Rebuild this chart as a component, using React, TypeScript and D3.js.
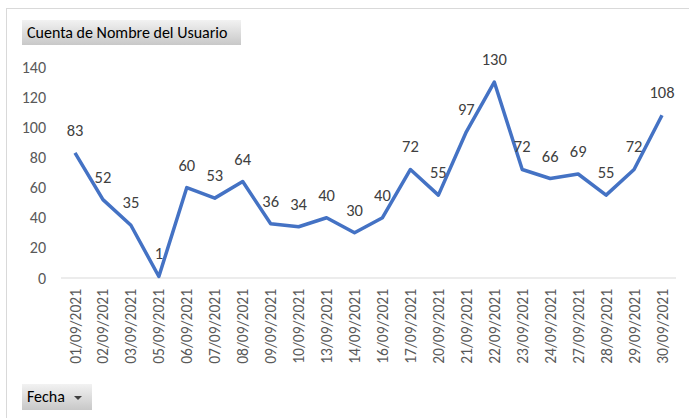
import React, { useEffect, useRef } from 'react';
import * as d3 from 'd3';

const fechas = [
  '01/09/2021', '02/09/2021', '03/09/2021', '05/09/2021', '06/09/2021', '07/09/2021',
  '08/09/2021', '09/09/2021', '10/09/2021', '13/09/2021', '14/09/2021', '16/09/2021',
  '17/09/2021', '20/09/2021', '21/09/2021', '22/09/2021', '23/09/2021', '24/09/2021',
  '27/09/2021', '28/09/2021', '29/09/2021', '30/09/2021',
];
const cuenta = [83, 52, 35, 1, 60, 53, 64, 36, 34, 40, 30, 40, 72, 55, 97, 130, 72, 66, 69, 55, 72, 108];
const yTicks = [0, 20, 40, 60, 80, 100, 120, 140];

const FONT = 'Calibri, Carlito, Lato, "Open Sans", sans-serif';

export default function App() {
  const node = useRef<SVGSVGElement>(null);

  useEffect(() => {
    const svg = d3.select(node.current);
    svg.selectAll('*').remove();

    const width = 689, height = 418;
    const x = d3.scalePoint<string>().domain(fechas).range([75, 662]);
    const y = d3.scaleLinear().domain([0, 140]).range([278, 67]);

    // outer frame
    svg.append('rect')
      .attr('x', 6.5).attr('y', 8.5)
      .attr('width', width + 10).attr('height', height + 10)
      .attr('fill', '#fff').attr('stroke', '#d9d9d9');

    const defs = svg.append('defs');
    const grad = defs.append('linearGradient').attr('id', 'btn').attr('x1', 0).attr('x2', 0).attr('y1', 0).attr('y2', 1);
    grad.append('stop').attr('offset', '0%').attr('stop-color', '#f2f2f2');
    grad.append('stop').attr('offset', '100%').attr('stop-color', '#c8c8c8');

    // field buttons
    svg.append('rect').attr('x', 22).attr('y', 20).attr('width', 219).attr('height', 25).attr('fill', 'url(#btn)');
    svg.append('text').attr('x', 27).attr('y', 38).attr('font-family', FONT).attr('font-size', 16)
      .attr('font-weight', 300).attr('fill', '#000').text('Cuenta de Nombre del Usuario');

    svg.append('rect').attr('x', 22).attr('y', 384).attr('width', 70).attr('height', 26).attr('fill', 'url(#btn)');
    svg.append('text').attr('x', 27).attr('y', 402).attr('font-family', FONT).attr('font-size', 16)
      .attr('font-weight', 300).attr('fill', '#000').text('Fecha');
    svg.append('path').attr('d', 'M74,396 L82,396 L78,400 Z').attr('fill', '#404040');

    // y axis labels
    svg.append('g').selectAll('text').data(yTicks).enter().append('text')
      .attr('x', 46).attr('y', (d) => y(d) + 5.5)
      .attr('text-anchor', 'end')
      .attr('font-family', FONT).attr('font-size', 16).attr('font-weight', 300).attr('fill', '#595959')
      .text((d) => d);

    // x axis line
    svg.append('line')
      .attr('x1', 61).attr('x2', 676)
      .attr('y1', y(0)).attr('y2', y(0))
      .attr('stroke', '#d9d9d9').attr('stroke-width', 1);

    // x labels
    svg.append('g').selectAll('text').data(fechas).enter().append('text')
      .attr('transform', (d) => `translate(${(x(d) as number) + 5.5},289) rotate(-90)`)
      .attr('text-anchor', 'end')
      .attr('font-family', FONT).attr('font-size', 15.5).attr('font-weight', 300).attr('fill', '#595959')
      .text((d) => d);

    // line
    const line = d3.line<number>()
      .x((_, i) => x(fechas[i]) as number)
      .y((d) => y(d));
    svg.append('path')
      .datum(cuenta)
      .attr('d', line)
      .attr('fill', 'none')
      .attr('stroke', '#4472c4')
      .attr('stroke-width', 3.5)
      .attr('stroke-linejoin', 'round');

    // data labels
    svg.append('g').selectAll('text').data(cuenta).enter().append('text')
      .attr('x', (_, i) => x(fechas[i]) as number)
      .attr('y', (d) => y(d) - 17)
      .attr('text-anchor', 'middle')
      .attr('font-family', FONT).attr('font-size', 16.5).attr('font-weight', 300).attr('fill', '#404040')
      .text((d) => d);
  }, []);

  return (
    <svg ref={node} width={689} height={418}
      style={{ position: 'absolute', left: 0, top: 0 }}>
    </svg>
  );
}
